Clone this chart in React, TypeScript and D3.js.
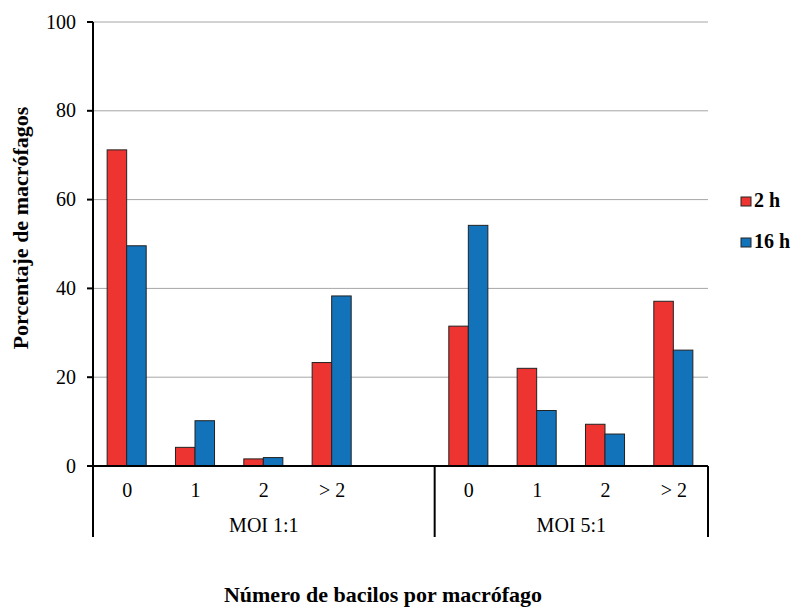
import React from "react";
import * as d3 from "d3";

const categories = ["0", "1", "2", "> 2", "", "0", "1", "2", "> 2"];
const slotKeys = ["a0", "a1", "a2", "a3", "gap", "b0", "b1", "b2", "b3"];
const series2h = [71.2, 4.2, 1.6, 23.3, null, 31.5, 22.0, 9.4, 37.1];
const series16h = [49.6, 10.2, 1.9, 38.3, null, 54.2, 12.5, 7.2, 26.1];
const seriesNames = ["2 h", "16 h"];
const seriesColors = ["#EE3430", "#1272BA"];
const groups = [
  { label: "MOI 1:1", from: 0, to: 5 },
  { label: "MOI 5:1", from: 5, to: 9 },
];
const yTicks = [0, 20, 40, 60, 80, 100];

const FONT = "'Liberation Serif', 'Times New Roman', Times, serif";

export default function App() {
  const W = 792, H = 607;
  const left = 93, right = 708, top = 22, bottom = 466;
  const x = d3.scaleBand().domain(slotKeys).range([left, right]).paddingInner(0).paddingOuter(0);
  const y = d3.scaleLinear().domain([0, 100]).range([bottom, top]);
  const inner = d3.scaleBand().domain(["0", "1"]).range([0, x.bandwidth()]).paddingInner(0).paddingOuter(0.75);
  const allSeries = [series2h, series16h];
  const ts = { fontFamily: FONT } as React.CSSProperties;

  return (
    <svg width={W} height={H} style={{ position: "absolute", left: 0, top: 0, background: "#fff", fontFamily: FONT }}>
      {yTicks.filter(t => t > 0).map(t => (
        <line key={"g" + t} x1={left} x2={right} y1={y(t)} y2={y(t)} stroke="#A6A6A6" strokeWidth={1} />
      ))}
      {allSeries.map((s, si) =>
        s.map((v, i) =>
          v == null ? null : (
            <rect
              key={si + "-" + i}
              x={(x(slotKeys[i]) as number) + (inner(String(si)) as number) - 0.5}
              y={y(v)}
              width={inner.bandwidth()}
              height={y(0) - y(v)}
              fill={seriesColors[si]}
              stroke="#222"
              strokeWidth={1}
            />
          )
        )
      )}
      <line x1={left} x2={left} y1={top} y2={537} stroke="#000" strokeWidth={2} />
      {yTicks.map(t => (
        <g key={"t" + t}>
          <line x1={left - 6} x2={left} y1={y(t)} y2={y(t)} stroke="#000" strokeWidth={2} />
          <text style={ts} x={76} y={y(t)} dy="0.33em" textAnchor="end" fontSize={20} fill="#000">{t}</text>
        </g>
      ))}
      <line x1={left - 6} x2={right} y1={bottom} y2={bottom} stroke="#000" strokeWidth={2} />
      {[groups[0].to].map(i => (
        <line key={"s" + i} x1={x(slotKeys[i]) as number} x2={x(slotKeys[i]) as number} y1={bottom} y2={537} stroke="#000" strokeWidth={2} />
      ))}
      <line x1={right} x2={right} y1={bottom} y2={537} stroke="#000" strokeWidth={2} />
      {categories.map((c, i) => (
        <text style={ts} key={"c" + i} x={(x(slotKeys[i]) as number) + x.bandwidth() / 2} y={497} textAnchor="middle" fontSize={20} fill="#000">{c}</text>
      ))}
      {groups.map(g => {
        const x0 = x(slotKeys[g.from]) as number;
        const x1 = g.to >= slotKeys.length ? right : (x(slotKeys[g.to]) as number);
        return (
          <text style={ts} key={g.label} x={(x0 + x1) / 2} y={532} textAnchor="middle" fontSize={20} fill="#000">{g.label}</text>
        );
      })}
      <text style={ts} x={383} y={602} textAnchor="middle" fontSize={22} fontWeight="bold" fill="#000">Número de bacilos por macrófago</text>
      <text style={ts} transform={`translate(28,228) rotate(-90)`} textAnchor="middle" fontSize={22} fontWeight="bold" fill="#000">Porcentaje de macrófagos</text>
      {seriesNames.map((n, i) => (
        <g key={n} transform={`translate(741,${197 + i * 41})`}>
          <rect x={0} y={0} width={10} height={9} fill={seriesColors[i]} stroke="#222" strokeWidth={1} />
          <text style={ts} x={13} y={10} fontSize={20} fontWeight="bold" fill="#000">{n}</text>
        </g>
      ))}
    </svg>
  );
}
